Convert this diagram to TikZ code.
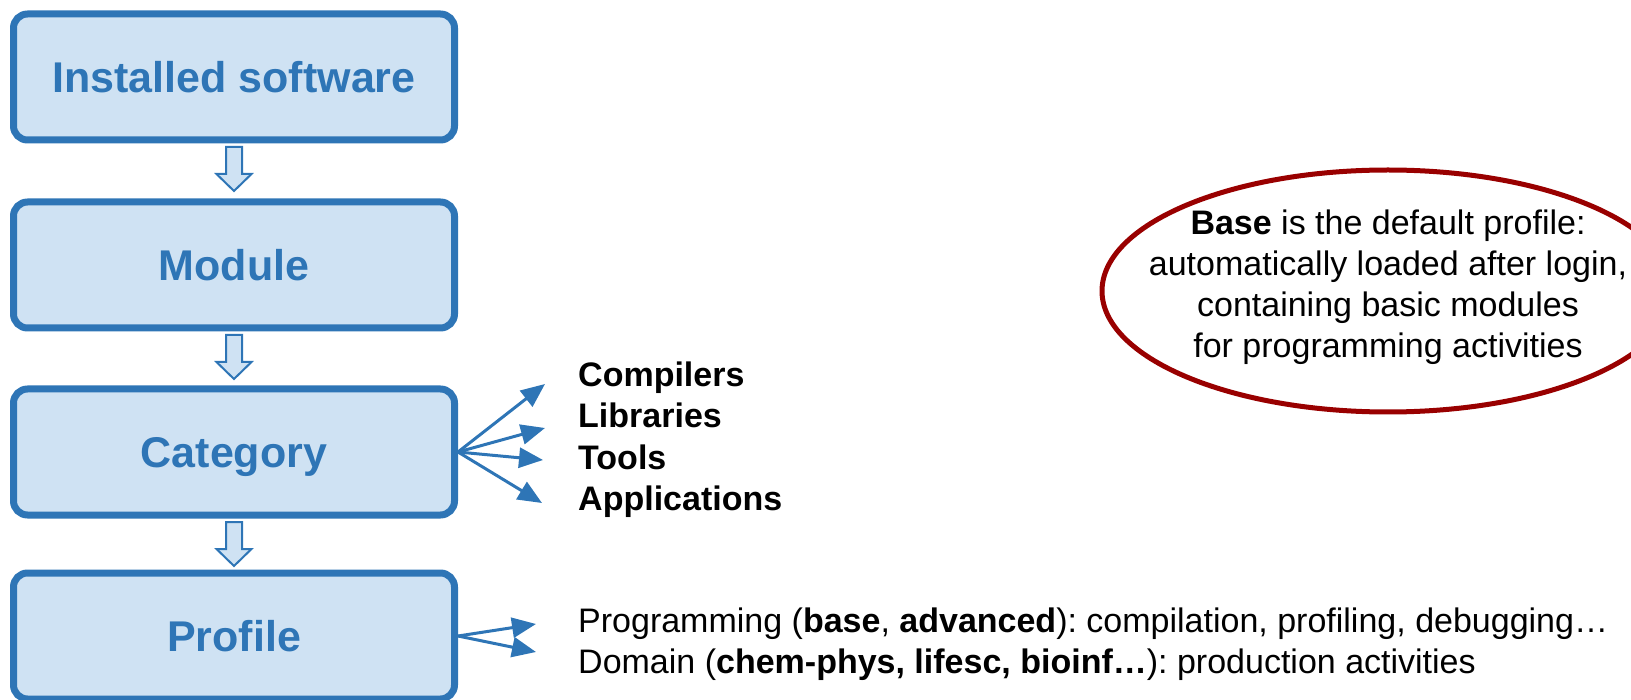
\documentclass[tikz,border=0pt]{standalone}
\usepackage{fontspec}
\setmainfont{Liberation Sans}
\usetikzlibrary{arrows.meta}
\definecolor{boxblue}{HTML}{2E75B6}
\definecolor{boxfill}{HTML}{CFE2F3}
\definecolor{notered}{HTML}{990000}
\frenchspacing
\begin{document}
\begin{tikzpicture}[x=1pt,y=1pt]\tikzstyle{every node}=[font=\fontsize{34}{41}\selectfont]
\tikzstyle{level}=[draw=boxblue, fill=boxfill, line width=7pt, rounded corners=14pt, minimum height=126pt, minimum width=441pt, text height=31pt, text depth=0pt, text=boxblue, font=\fontsize{43}{50}\selectfont\bfseries]
\tikzstyle{item}=[anchor=base west, inner sep=0pt]
\tikzstyle{fan}=[boxblue, line width=3pt, -{Triangle[length=24pt,width=20pt]}]
\tikzstyle{hollow}=[draw=boxblue, fill=boxfill, line width=2pt]
\useasboundingbox (0,0) rectangle (1631,-700);
\node[level] (inst) at (234,-77) {Installed software};
\node[level] (module) at (234,-265) {Module};
\node[level] (categ) at (234,-452) {Category};
\node[level] (profile) at (234,-636) {Profile};
%%%%%%%%%%%%%
\foreach \a in {inst,module,categ}
  \draw[hollow] ([xshift=-8pt,yshift=-3.5pt]\a.south) -- ++(0,-27) -- ++(-9.5,0) -- ++(17.5,-17) -- ++(17.5,17) -- ++(-9.5,0) -- ++(0,27) -- cycle;
%%%%%%%%%%%%%
\node[item, font=\fontsize{34}{41}\selectfont\bfseries] (comp) at (578,-387) {Compilers};
\node[item, font=\fontsize{34}{41}\selectfont\bfseries] (libs) at (578,-428) {Libraries};
\node[item, font=\fontsize{34}{41}\selectfont\bfseries] (tools) at (578,-469) {Tools};
\node[item, font=\fontsize{34}{41}\selectfont\bfseries] (apps) at (578,-510) {Applications};
\coordinate (tcomp) at (545,-384);
\coordinate (tlibs) at (545,-428);
\coordinate (ttools) at (543,-460);
\coordinate (tapps) at (542,-503);
\foreach \t in {tcomp,tlibs,ttools,tapps}
  \draw[fan] (categ.east) -- (\t);
%%%%%%%%%%%%%
\node[item] (prog) at (578,-632) {Programming (\textbf{base}, \textbf{advanced}): compilation, profiling, debugging…};
\node[item] (dom) at (578,-673) {Domain (\textbf{chem-phys, lifesc, bioinf…}): production activities};
\coordinate (tprog) at (536,-624);
\coordinate (tdom) at (536,-652);
\draw[fan] (profile.east) -- (tprog);
\draw[fan] (profile.east) -- (tdom);
%%%%%%%%%%%%%
\node[align=center] (note) at (1388,-287) {\textbf{Base} is the default profile:\\automatically loaded after login,\\containing basic modules\\for programming activities};
\draw[notered, line width=5pt] ([yshift=-4pt]note.center) ellipse [x radius=286, y radius=121];
\end{tikzpicture}
\end{document}
